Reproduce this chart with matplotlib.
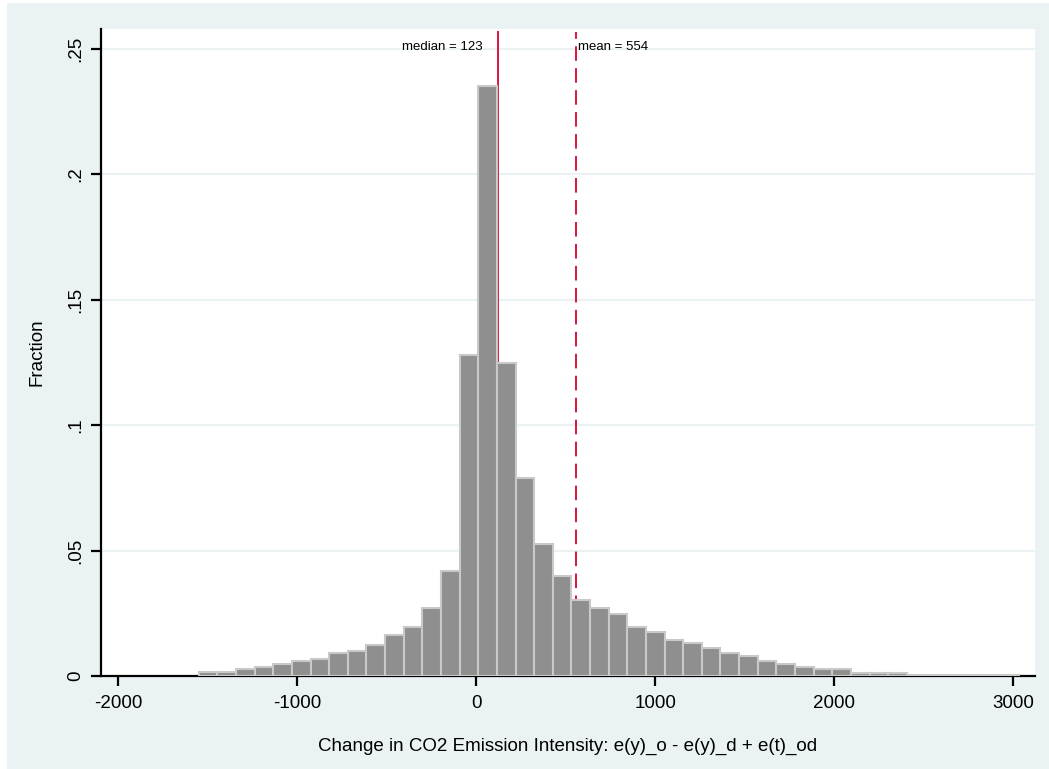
import matplotlib
matplotlib.use('Agg')
import matplotlib.pyplot as plt
from matplotlib.patches import Rectangle
import numpy as np

plt.rcParams['font.family'] = ['Liberation Sans', 'DejaVu Sans']

# histogram: 44 bins of equal width starting at the data minimum
bin_start = -1551
bin_width = 104.1
fractions = [
    0.0015, 0.0015, 0.0027, 0.0037, 0.0048, 0.0059, 0.0069, 0.0090, 0.0100, 0.0122,
    0.0163, 0.0195, 0.0270, 0.0418, 0.1279, 0.2350, 0.1248, 0.0790, 0.0525, 0.0397,
    0.0303, 0.0270, 0.0248, 0.0195, 0.0174, 0.0142, 0.0131, 0.0110, 0.0090, 0.0078,
    0.0059, 0.0047, 0.0036, 0.0027, 0.0027, 0.0013, 0.0013, 0.0013, 0.0004, 0.0003,
    0.0003, 0.0003, 0.0003, 0.0003,
]
median_val = 123
mean_val = 554

xticks = [-2000, -1000, 0, 1000, 2000, 3000]
xtick_labels = ['-2000', '-1000', '0', '1000', '2000', '3000']
yticks = [0, 0.05, 0.1, 0.15, 0.2, 0.25]
ytick_labels = ['0', '.05', '.1', '.15', '.2', '.25']

bg = '#EAF2F3'
red = '#D8163F'

fig = plt.figure(figsize=(10.49, 7.69), dpi=100)
fig.patch.set_facecolor('white')
fig.patches.append(Rectangle((7 / 1049, -0.05), 1.05, 1.05 - 3 / 769,
                             transform=fig.transFigure, facecolor=bg,
                             edgecolor='none', zorder=-10))

ax = fig.add_axes([101 / 1049, 93 / 769, 934 / 1049, 647 / 769])
ax.set_facecolor('white')

lefts = bin_start + bin_width * np.arange(len(fractions))
ax.bar(lefts, fractions, width=bin_width, align='edge', color='#8F8F8F',
       edgecolor='#C9C9C9', linewidth=1.5, zorder=3)

ytop = 0.2578
ax.axvline(median_val, ymax=0.2567 / ytop, color=red, lw=1.4, zorder=2)
ax.axvline(mean_val, ymax=0.2567 / ytop, color=red, lw=1.4, dashes=(7.5, 3.8), zorder=2)
ax.annotate(f'median = {median_val}', xy=(median_val, 0.2506), xytext=(-11.5, 0),
            textcoords='offset points', ha='right', va='center', fontsize=9.5)
ax.annotate(f'mean = {mean_val}', xy=(mean_val, 0.2506), xytext=(2, 0),
            textcoords='offset points', ha='left', va='center', fontsize=9.5)

ax.set_xlim(-2097, 3121)
ax.set_ylim(0, ytop)
ax.set_xticks(xticks)
ax.set_xticklabels(xtick_labels, fontsize=13.5)
ax.set_yticks(yticks)
ax.set_yticklabels(ytick_labels, fontsize=13.5, rotation=90, va='center')

ax.yaxis.grid(True, color=bg, lw=1.5, zorder=0)
ax.set_axisbelow(True)

for s in ['top', 'right']:
    ax.spines[s].set_visible(False)
for s in ['left', 'bottom']:
    ax.spines[s].set_linewidth(1.6)
ax.tick_params(direction='out', length=7, width=1.6)
ax.tick_params(axis='x', pad=7)
ax.tick_params(axis='y', pad=5)

ax.set_xlabel('Change in CO2 Emission Intensity: e(y)_o - e(y)_d + e(t)_od',
              fontsize=13.5, labelpad=18)
ax.set_ylabel('Fraction', fontsize=13.5, labelpad=15.5)

plt.savefig('out.png', dpi=100)
